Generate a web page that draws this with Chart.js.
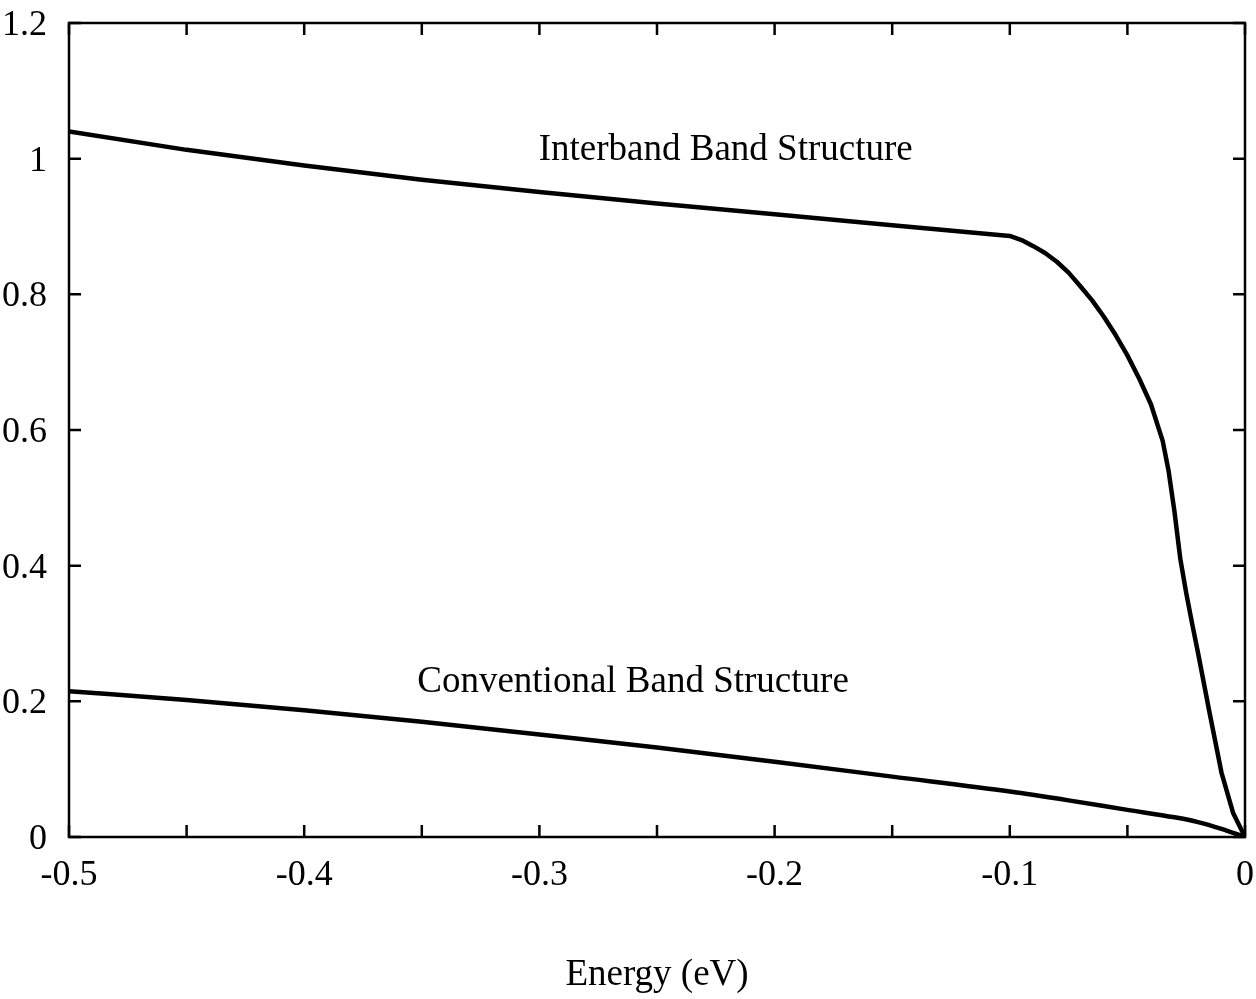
<!DOCTYPE html>
<html>
<head>
<meta charset="utf-8">
<script src="https://cdn.jsdelivr.net/npm/chart.js@4.4.1/dist/chart.umd.min.js"></script>
<style>
    html, body { margin: 0; padding: 0; background: #fff; }
    #wrap { width: 1256px; height: 999px; position: relative; }
</style>
</head>
<body>
<div id="wrap"><canvas id="bandChart"></canvas></div>
<script>
// Interband band structure
const interbandEnergy = [-0.5, -0.45, -0.4, -0.35, -0.3, -0.25, -0.2, -0.15, -0.1, -0.095, -0.09, -0.085, -0.08, -0.075, -0.07, -0.065, -0.06, -0.055, -0.05, -0.045, -0.04, -0.035, -0.0325, -0.03, -0.0275, -0.025, -0.0225, -0.02, -0.015, -0.01, -0.005, 0];
const interbandValues = [1.040, 1.013, 0.990, 0.969, 0.951, 0.934, 0.918, 0.902, 0.886, 0.880, 0.871, 0.861, 0.848, 0.832, 0.812, 0.791, 0.767, 0.740, 0.710, 0.676, 0.638, 0.584, 0.540, 0.480, 0.410, 0.360, 0.315, 0.272, 0.182, 0.095, 0.035, 0];

// Conventional band structure
const conventionalEnergy = [-0.5, -0.45, -0.4, -0.35, -0.3, -0.25, -0.2, -0.15, -0.1, -0.075, -0.05, -0.03, -0.02, -0.01, -0.005, 0];
const conventionalValues = [0.215, 0.202, 0.187, 0.170, 0.151, 0.132, 0.111, 0.089, 0.067, 0.054, 0.040, 0.029, 0.022, 0.012, 0.006, 0];

// Axis ranges and text labels
const xRange = [-0.5, 0];
const yRange = [0, 1.2];
const curveLabels = [
    { text: 'Interband Band Structure', x: -0.2208, y: 0.998 },
    { text: 'Conventional Band Structure', x: -0.2602, y: 0.214 }
];

const FONT = "'Liberation Serif', 'Times New Roman', serif";
const TICK_SIZE = 36;
const TEXT_SIZE = 37;

function toPoints(xs, ys) {
    return xs.map((x, i) => ({ x: x, y: ys[i] }));
}

function xLabel(v) {
    const k = Math.round(v * 100);
    if (k % 10 !== 0) return '';
    return k === 0 ? '0' : (k / 100).toString();
}

function yLabel(v) {
    const k = Math.round(v * 10);
    return k % 10 === 0 ? (k / 10).toString() : (k / 10).toFixed(1);
}

// Frame with inward ticks on all four sides, tick labels and curve labels
const framePlugin = {
    id: 'frame',
    afterDraw(chart) {
        const ctx = chart.ctx;
        const { left, right, top, bottom } = chart.chartArea;
        const xs = chart.scales.x, ys = chart.scales.y;
        const len = 12;
        ctx.save();
        ctx.strokeStyle = '#000';
        ctx.lineWidth = 2.5;
        ctx.strokeRect(left, top, right - left, bottom - top);
        ctx.beginPath();
        xs.ticks.forEach(t => {
            const px = xs.getPixelForValue(t.value);
            ctx.moveTo(px, bottom); ctx.lineTo(px, bottom - len);
            ctx.moveTo(px, top); ctx.lineTo(px, top + len);
        });
        ys.ticks.forEach(t => {
            const py = ys.getPixelForValue(t.value);
            ctx.moveTo(left, py); ctx.lineTo(left + len, py);
            ctx.moveTo(right, py); ctx.lineTo(right - len, py);
        });
        ctx.stroke();

        ctx.fillStyle = '#000';
        ctx.font = TICK_SIZE + 'px ' + FONT;
        ctx.textBaseline = 'alphabetic';
        ctx.textAlign = 'center';
        xs.ticks.forEach(t => {
            ctx.fillText(xLabel(t.value), xs.getPixelForValue(t.value), bottom + 48);
        });
        ctx.textAlign = 'right';
        ys.ticks.forEach(t => {
            ctx.fillText(yLabel(t.value), left - 22, ys.getPixelForValue(t.value) + 12);
        });

        ctx.font = TEXT_SIZE + 'px ' + FONT;
        ctx.textAlign = 'center';
        curveLabels.forEach(l => {
            ctx.fillText(l.text, xs.getPixelForValue(l.x), ys.getPixelForValue(l.y));
        });
        ctx.restore();
    }
};

Chart.defaults.font.family = FONT;
Chart.defaults.font.size = TEXT_SIZE;
Chart.defaults.color = '#000';

new Chart(document.getElementById('bandChart'), {
    type: 'scatter',
    data: {
        datasets: [
            {
                label: 'Interband Band Structure',
                data: toPoints(interbandEnergy, interbandValues),
                showLine: true,
                borderColor: '#000',
                borderWidth: 4.5,
                borderJoinStyle: 'round',
                pointRadius: 0,
                tension: 0
            },
            {
                label: 'Conventional Band Structure',
                data: toPoints(conventionalEnergy, conventionalValues),
                showLine: true,
                borderColor: '#000',
                borderWidth: 4.5,
                borderJoinStyle: 'round',
                pointRadius: 0,
                cubicInterpolationMode: 'monotone'
            }
        ]
    },
    options: {
        responsive: true,
        maintainAspectRatio: false,
        animation: false,
        layout: { padding: { top: 23, right: 11, left: 0, bottom: 0 } },
        plugins: {
            legend: { display: false },
            tooltip: { enabled: false }
        },
        scales: {
            x: {
                type: 'linear',
                min: xRange[0],
                max: xRange[1],
                border: { display: false },
                grid: { display: false, drawTicks: false },
                ticks: { display: false, stepSize: 0.05, autoSkip: false },
                title: {
                    display: true,
                    text: 'Energy (eV)',
                    padding: { top: 0, bottom: 2 }
                },
                afterFit: (s) => { s.height = 162; }
            },
            y: {
                type: 'linear',
                min: yRange[0],
                max: yRange[1],
                border: { display: false },
                grid: { display: false, drawTicks: false },
                ticks: { display: false, stepSize: 0.2 },
                afterFit: (s) => { s.width = 69; }
            }
        }
    },
    plugins: [framePlugin]
});
</script>
</body>
</html>
